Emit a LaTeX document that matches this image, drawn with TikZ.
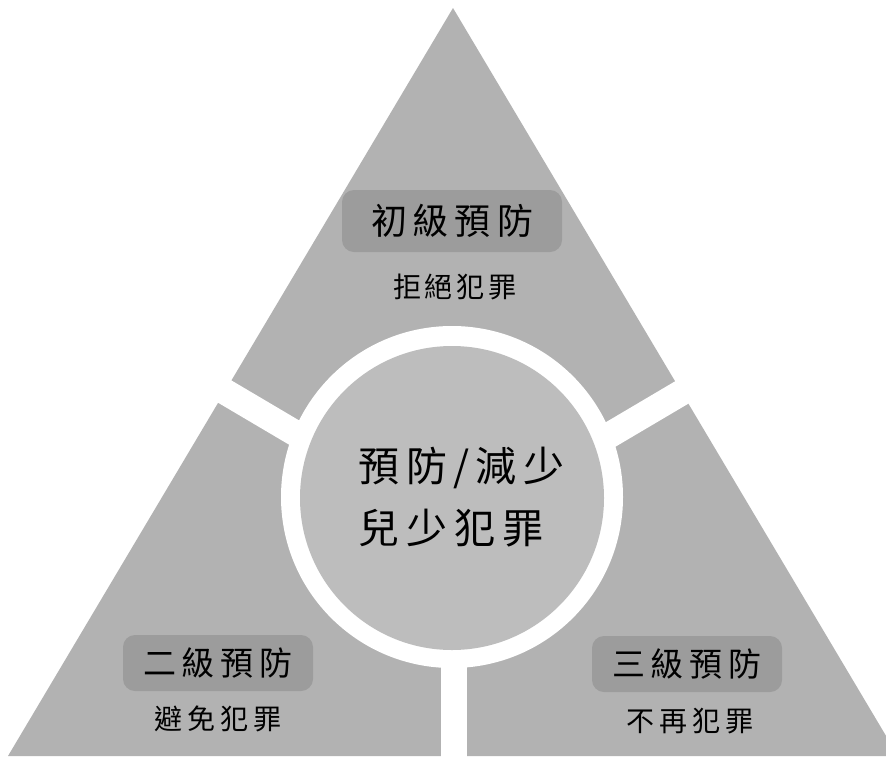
\documentclass[tikz,border=0pt]{standalone}
\usepackage{fontspec}
\newfontfamily\cjk{Noto Sans CJK TC}
\definecolor{trigray}{gray}{0.70}
\definecolor{circgray}{gray}{0.74}
\definecolor{boxgray}{gray}{0.61}
\tikzset{
  gapline/.style={white, line width=26pt},
  boxlabel/.style={fill=boxgray, rounded corners=12pt, inner sep=0pt, minimum width=#1, minimum height=56pt},
  txt/.style={inner sep=0pt, text=black, font=\cjk},
}
\begin{document}
\begin{tikzpicture}[x=1pt, y=-1pt]
  \path[use as bounding box, fill=white] (0,0) rectangle (886,756);
  \clip (0,0) rectangle (886,756);
  % triangle
  \coordinate (apex) at (453,8);
  \coordinate (bl) at (8,756);
  \coordinate (br) at (898,756);
  \fill[trigray] (apex) -- (bl) -- (br) -- cycle;
  % white gaps
  \coordinate (hub) at (454,527);
  \coordinate (gl) at (195,374);
  \coordinate (gr) at (713,374);
  \coordinate (gb) at (454,780);
  \draw[gapline] (hub) -- (gl);
  \draw[gapline] (hub) -- (gr);
  \draw[gapline] (hub) -- (gb);
  % central circle
  \fill[white] (452,497) circle[radius=171];
  \fill[circgray] (452,498) circle[radius=152];
  % label boxes
  \node[boxlabel=220pt, minimum height=62pt] (b1) at (452,221) {};
  \node[boxlabel=190pt] (b2) at (218,663) {};
  \node[boxlabel=190pt] (b3) at (687,664) {};
  % texts
  \node[txt, font=\cjk\fontsize{36}{40}\selectfont] (t1) at (b1) {初\hspace{6pt}級\hspace{6pt}預\hspace{6pt}防};
  \node[txt, font=\cjk\fontsize{28}{32}\selectfont] (s1) at (455,287) {拒\hspace{4pt}絕\hspace{4pt}犯\hspace{4pt}罪};
  \node[txt, font=\cjk\fontsize{33}{38}\selectfont] (t2) at (b2) {二\hspace{6pt}級\hspace{6pt}預\hspace{6pt}防};
  \node[txt, font=\cjk\fontsize{28}{32}\selectfont] (s2) at (218,719) {避\hspace{5pt}免\hspace{5pt}犯\hspace{5pt}罪};
  \node[txt, font=\cjk\fontsize{33}{38}\selectfont] (t3) at (b3) {三\hspace{6pt}級\hspace{6pt}預\hspace{6pt}防};
  \node[txt, font=\cjk\fontsize{28}{32}\selectfont] (s3) at (690,721) {不\hspace{5pt}再\hspace{5pt}犯\hspace{5pt}罪};
  \node[txt, font=\cjk\fontsize{41}{62}\selectfont, align=left, anchor=west] (ctr) at (358,497)
    {預\hspace{7pt}防\hspace{6pt}/\hspace{6pt}減\hspace{7pt}少\\兒\hspace{7pt}少\hspace{7pt}犯\hspace{7pt}罪};
\end{tikzpicture}
\end{document}
